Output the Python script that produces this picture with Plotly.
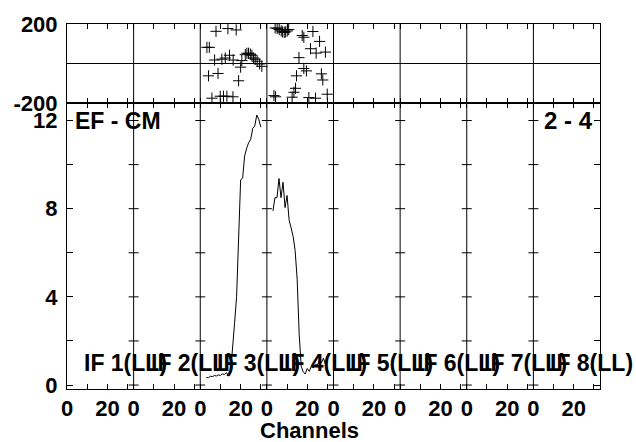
import plotly.graph_objects as go

# Spectral layout: 8 IFs laid side by side, each occupying IF_SPAN channel slots
N_IF = 8
IF_SPAN = 33
if_names = ["IF 1(LL)", "IF 2(LL)", "IF 3(LL)", "IF 4(LL)",
            "IF 5(LL)", "IF 6(LL)", "IF 7(LL)", "IF 8(LL)"]
channel_ticks = [0, 10, 20, 30]
channel_labels = ["0", "", "20", ""]
baseline_label = "EF - CM"
scan_label = "2 - 4"
x_title = "Channels"

# Amplitude per channel (IF 3 and IF 4 carry data)
amp_if3_ch = [3, 4, 5, 6, 7, 8, 9, 10, 11, 12, 13, 14, 15, 16, 17, 18, 19, 20,
              21, 22, 23, 24, 25, 26, 27, 28, 29, 30]
amp_if3 = [0.35, 0.33, 0.40, 0.38, 0.43, 0.41, 0.46, 0.44, 0.50, 0.48, 0.56, 0.40,
           0.55, 1.5, 2.8, 4.0, 6.7, 9.3, 9.4, 10.4, 10.75, 11.0, 11.15, 11.65,
           11.75, 12.25, 12.05, 11.7]
amp_if4_ch = [3, 4, 5, 6, 7, 8, 9, 10, 11, 12, 13, 14, 15, 16, 17, 18, 19, 20,
              21, 22, 23, 24, 25, 26, 27, 28, 29]
amp_if4 = [7.9, 8.5, 8.5, 9.37, 8.5, 9.2, 8.05, 8.6, 7.5, 7.15, 6.75, 6.1, 4.8,
           2.3, 0.85, 0.6, 0.5, 0.75, 0.62, 0.85, 0.78, 0.95, 0.9, 1.1, 1.0,
           1.22, 0.95]

# Phase (degrees) per channel
ph_if3_ch = [7.8, 13.7, 17.8, 3.3, 4.5, 7.1, 10.7, 12.4, 14.5, 16.3, 20.6,
             22.3, 23.1, 23.9, 24.8, 25.6, 26.4, 27.2, 28.2, 29.4, 30.5,
             20.0, 4.1, 8.8, 19.0, 5.8, 9.9, 11.5, 13.2, 16.2]
ph_if3 = [163, 177, 170, 82, 82, 18, 22, 28, 42, 18, 15,
          45, 52, 52, 48, 42, 28, 22, 12, -2, -14,
          -18, -62, -50, -87, -175, -165, -165, -165, -168]
ph_if4_ch = [4.1, 5.1, 6.1, 7.1, 7.8, 8.6, 9.3, 10.1, 10.8,
             17.5, 18.3, 22.8, 26.1, 21.6, 24.4, 29.0, 15.9, 18.3, 19.6,
             14.7, 27.0, 27.7, 14.2, 13.4, 12.5, 3.5, 4.3, 20.8, 24.1, 29.9]
ph_if4 = [180, 178, 172, 165, 160, 158, 160, 165, 172,
          142, 133, 162, 112, 75, 53, 58, 30, -25, -37,
          -62, -52, -83, -125, -145, -170, -162, -168, -172, -175, -155]


def slot(if_index, ch):
    """Position of a channel of IF number if_index (1-based) on the shared axis."""
    return [(if_index - 1) * IF_SPAN + c for c in ch]


FONT = dict(family="Liberation Sans, Arial, sans-serif", color="black", weight="bold")
INK = "black"

fig = go.Figure()

# phase panel
fig.add_trace(go.Scatter(
    x=slot(3, ph_if3_ch) + slot(4, ph_if4_ch), y=ph_if3 + ph_if4,
    mode="markers", xaxis="x2", yaxis="y2",
    marker=dict(symbol="cross-thin", size=8, line=dict(color=INK, width=1)),
))

# amplitude panel
for idx, ch, amp in [(3, amp_if3_ch, amp_if3), (4, amp_if4_ch, amp_if4)]:
    fig.add_trace(go.Scatter(
        x=slot(idx, ch), y=amp, mode="lines", xaxis="x", yaxis="y",
        line=dict(color=INK, width=1),
    ))

tickvals, ticktext = [], []
for k in range(N_IF):
    for t, lab in zip(channel_ticks, channel_labels):
        tickvals.append(k * IF_SPAN + t)
        ticktext.append(lab)

split = 289 / 369
axis_common = dict(showline=True, linecolor=INK, linewidth=1, mirror="ticks",
                   showgrid=False, zeroline=False, ticks="inside",
                   tickcolor=INK, tickwidth=1)

fig.update_layout(
    width=636, height=442,
    margin=dict(l=67, r=36, t=20, b=53),
    paper_bgcolor="white", plot_bgcolor="white",
    showlegend=False,
    font=dict(size=22, **FONT),
    xaxis=dict(domain=[0, 1], range=[0, N_IF * IF_SPAN], anchor="y",
               tickvals=tickvals, ticktext=ticktext, ticklen=5,
               tickfont=dict(size=22, **FONT),
               **axis_common),
    xaxis2=dict(domain=[0, 1], matches="x", anchor="y2", tickvals=tickvals,
                showticklabels=False, ticklen=5, **axis_common),
    yaxis=dict(domain=[0, split], range=[-0.18, 12.79], anchor="x",
               tickvals=[0, 2, 4, 6, 8, 10, 12],
               ticktext=["0", "", "4", "", "8", "", "12"], ticklen=6,
               tickfont=dict(size=22, **FONT), ticklabelstandoff=4,
               **axis_common),
    yaxis2=dict(domain=[split, 1], range=[-200, 200], anchor="x2",
                tickvals=[-200, 200], ticktext=["-200", "200"],
                showline=True, linecolor=INK, linewidth=1, mirror=True,
                showgrid=False, ticks="", zeroline=True, zerolinecolor=INK,
                zerolinewidth=1, tickfont=dict(size=22, **FONT),
                ticklabelstandoff=4),
)

shapes = []
for k in range(1, N_IF):
    xb = k * IF_SPAN
    shapes.append(dict(type="line", xref="x", yref="paper", x0=xb, x1=xb,
                       y0=0, y1=1, line=dict(color=INK, width=1)))
    for v in range(0, 13, 2):
        shapes.append(dict(type="line", xref="x", yref="y", xsizemode="pixel",
                           xanchor=xb, x0=-5, x1=5, y0=v, y1=v,
                           line=dict(color=INK, width=1)))
fig.update_layout(shapes=shapes)

annotations = [
    dict(text=baseline_label, x=3, y=12.0, xref="x", yref="y",
         xanchor="left", yanchor="middle", showarrow=False,
         font=dict(size=23, **FONT)),
    dict(text=scan_label, x=N_IF * IF_SPAN - 2.5, y=12.0, xref="x", yref="y",
         xanchor="right", yanchor="middle", showarrow=False,
         font=dict(size=24, **FONT)),
    dict(text=x_title, x=0.455, y=0, xref="paper", yref="paper",
         xanchor="center", yanchor="middle", yshift=-41, showarrow=False,
         font=dict(size=22, **FONT)),
]
for k, name in enumerate(if_names):
    annotations.append(dict(text=name, x=k * IF_SPAN + 7.4, y=1.0,
                            xref="x", yref="y", xanchor="left", yanchor="middle",
                            showarrow=False, font=dict(size=23, **FONT)))
fig.update_layout(annotations=annotations)

fig.write_html("out.html")
